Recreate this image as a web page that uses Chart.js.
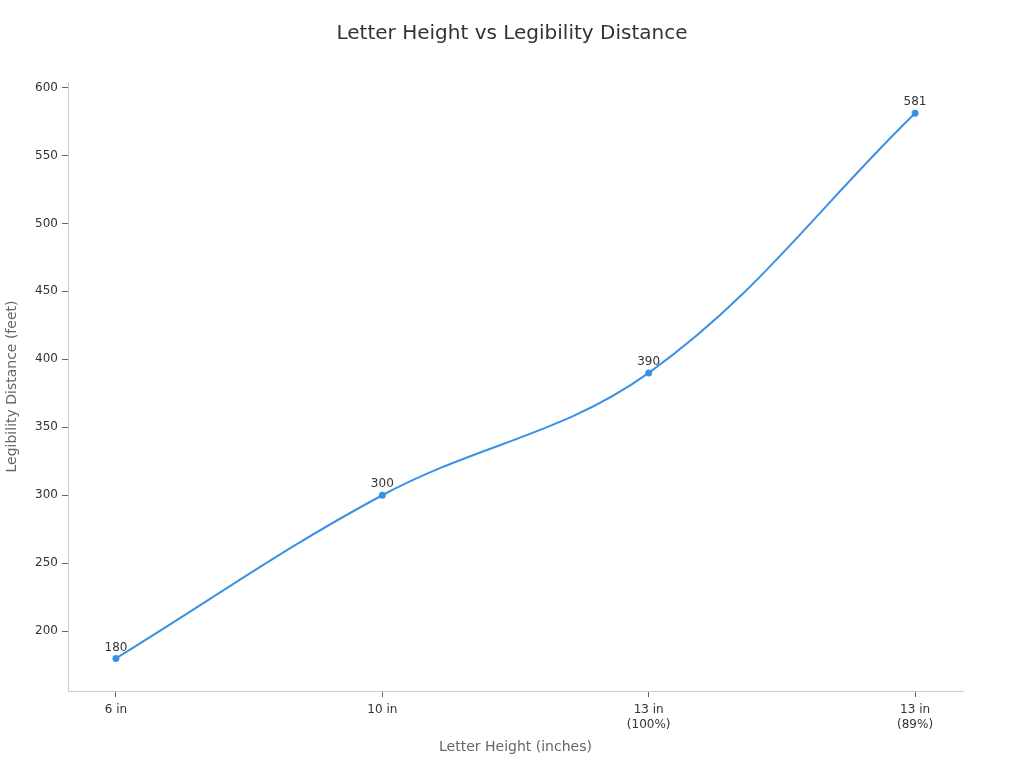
<!DOCTYPE html>
<html>
<head>
<meta charset="utf-8">
<script src="https://cdn.jsdelivr.net/npm/chart.js@4.4.1/dist/chart.umd.min.js"></script>
<style>
  html, body { margin: 0; padding: 0; background: #fff; }
  #wrap { width: 1024px; height: 768px; }
</style>
</head>
<body>
<div id="wrap"><canvas id="chart" width="1024" height="768"></canvas></div>
<script>
"use strict";

// data
var letterHeights = ["6 in", "10 in", ["13 in", "(100%)"], ["13 in", "(89%)"]];
var distances = [180, 300, 390, 581];
var yTicks = [200, 250, 300, 350, 400, 450, 500, 550, 600];

var lineColor = "#3a91e5";
var textColor = "#333333";
var axisColor = "#cccccc";
var tickColor = "#666666";

// simple value labels above every point
var pointLabels = {
  id: "pointLabels",
  afterDatasetsDraw: function (chart) {
    var ctx = chart.ctx;
    var meta = chart.getDatasetMeta(0);
    ctx.save();
    ctx.font = "12px 'DejaVu Sans'";
    ctx.fillStyle = textColor;
    ctx.textAlign = "center";
    ctx.textBaseline = "bottom";
    meta.data.forEach(function (pt, i) {
      ctx.fillText(String(distances[i]), pt.x, pt.y - 5);
    });
    ctx.restore();
  }
};

new Chart(document.getElementById("chart"), {
  type: "line",
  data: {
    datasets: [{
      data: distances.map(function (v, i) { return { x: i, y: v }; }),
      borderColor: lineColor,
      backgroundColor: lineColor,
      borderWidth: 2,
      pointRadius: 2.5,
      pointHoverRadius: 2.5,
      tension: 0.37,
      fill: false
    }]
  },
  options: {
    responsive: false,
    animation: false,
    devicePixelRatio: 1,
    layout: { padding: { top: 0, left: 0, right: 0, bottom: 8 } },
    plugins: {
      legend: { display: false },
      tooltip: { enabled: false },
      title: {
        display: true,
        text: "Letter Height vs Legibility Distance",
        color: textColor,
        font: { family: "'DejaVu Sans'", size: 20, weight: "normal" },
        padding: { top: 22, bottom: 36 }
      }
    },
    scales: {
      x: {
        type: "linear",
        min: -0.18,
        max: 3.18,
        afterFit: function (s) { s.height = 69; },
        afterBuildTicks: function (s) {
          s.ticks = letterHeights.map(function (l, i) { return { value: i }; });
        },
        ticks: {
          color: textColor,
          font: { family: "'DejaVu Sans'", size: 12 },
          padding: 6,
          maxRotation: 0,
          callback: function (v) { return letterHeights[v]; }
        },
        grid: { drawOnChartArea: false, tickLength: 6, color: tickColor },
        border: { color: axisColor },
        title: {
          display: true,
          text: "Letter Height (inches)",
          color: "#666",
          font: { family: "'DejaVu Sans'", size: 14 },
          padding: { top: 8 }
        }
      },
      y: {
        min: 156,
        max: 604,
        afterFit: function (s) { s.width = 68; },
        afterBuildTicks: function (s) {
          s.ticks = yTicks.map(function (v) { return { value: v }; });
        },
        ticks: {
          color: textColor,
          font: { family: "'DejaVu Sans'", size: 12 },
          padding: 4
        },
        grid: { drawOnChartArea: false, tickLength: 6, color: tickColor },
        border: { color: axisColor },
        title: {
          display: true,
          text: "Legibility Distance (feet)",
          color: "#666",
          font: { family: "'DejaVu Sans'", size: 14 },
          padding: { top: 4, bottom: 0 }
        }
      },
      // empty right-hand spacer so the plot ends where the reference does
      spacer: {
        type: "linear",
        position: "right",
        afterFit: function (s) { s.width = 61; },
        ticks: { display: false },
        grid: { display: false },
        border: { display: false }
      }
    }
  },
  plugins: [pointLabels]
});
</script>
</body>
</html>
